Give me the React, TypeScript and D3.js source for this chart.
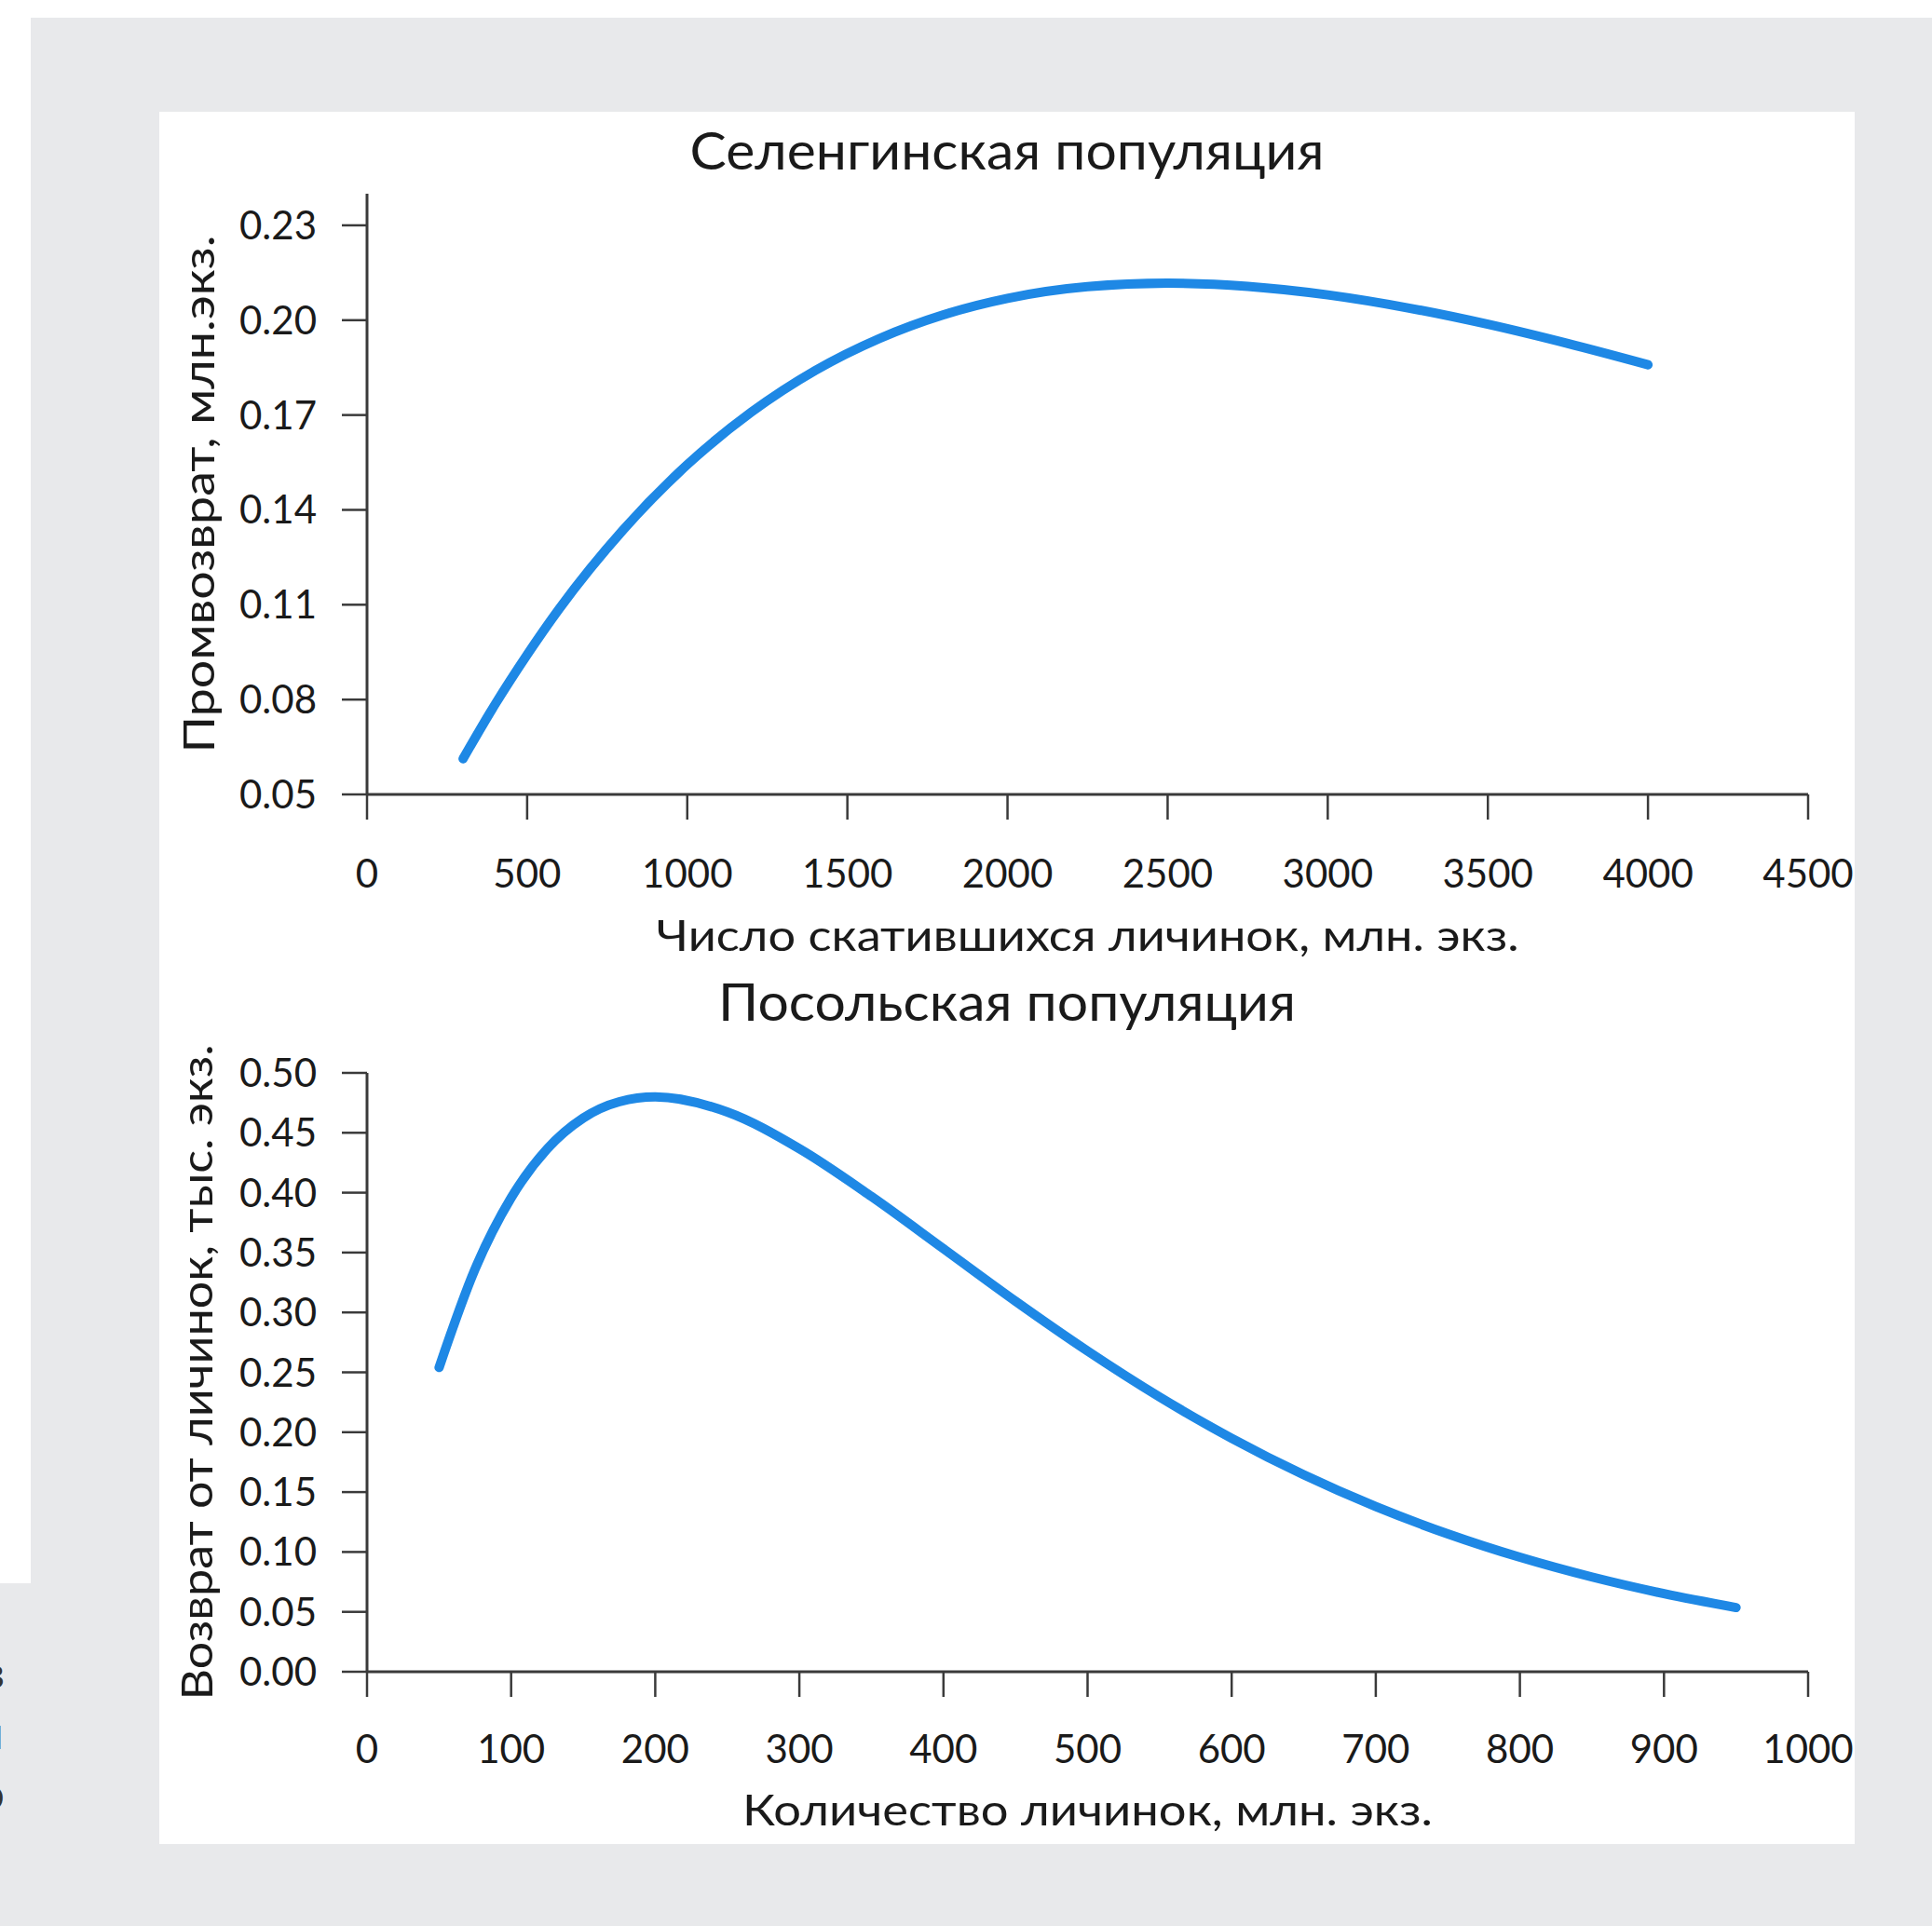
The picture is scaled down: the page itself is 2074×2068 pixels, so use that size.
import React from "react";
import * as d3 from "d3";

// Selenga population: larvae released (mln) vs. commercial return (mln fish)
const selengaLarvae = [300, 400, 500, 600, 800, 1000, 1200, 1400, 1600, 1800, 2000, 2250, 2500, 2750, 3000, 3250, 3500, 3750, 4000];
const selengaReturn = [0.0613, 0.0785, 0.0942, 0.1087, 0.1337, 0.1543, 0.1709, 0.1841, 0.1942, 0.2017, 0.2069, 0.2106, 0.2117, 0.2107, 0.208, 0.2039, 0.1987, 0.1926, 0.1859];
const selengaXTicks = [0, 500, 1000, 1500, 2000, 2500, 3000, 3500, 4000, 4500];
const selengaYTicks = [0.05, 0.08, 0.11, 0.14, 0.17, 0.2, 0.23];

// Posolsk population: larvae (mln) vs. return (thousand fish)
const posolskLarvae = [50, 75, 100, 125, 150, 175, 200, 250, 300, 350, 400, 450, 500, 550, 600, 650, 700, 750, 800, 850, 900, 950];
const posolskReturn = [0.254, 0.3363, 0.3957, 0.4365, 0.4623, 0.4759, 0.48, 0.4673, 0.4367, 0.3968, 0.3532, 0.3094, 0.2678, 0.2294, 0.1949, 0.1644, 0.1379, 0.1151, 0.0956, 0.0791, 0.0652, 0.0536];
const posolskXTicks = [0, 100, 200, 300, 400, 500, 600, 700, 800, 900, 1000];
const posolskYTicks = [0, 0.05, 0.1, 0.15, 0.2, 0.25, 0.3, 0.35, 0.4, 0.45, 0.5];

const W = 2074;
const H = 2068;
const FONT = "Lato, 'Open Sans', sans-serif";
const INK = "#1a1a1a";
const AXIS = "#3a3a3a";
const LINE = "#1e88e5";
const TICK = 27;

type PanelProps = {
  title: string;
  titleY: number;
  titleLen: number;
  xLabel: string;
  xLabelY: number;
  xLabelLen: number;
  yLabel: string;
  yLabelX: number;
  yLabelLen: number;
  xs: number[];
  ys: number[];
  xTicks: number[];
  yTicks: number[];
  xDomain: [number, number];
  yDomain: [number, number];
  yRange: [number, number];
  xTickLabelY: number;
};

const plotLeft = 394;
const plotRight = 1941;
const panelCenter = 1081;

function Panel(p: PanelProps) {
  const x = d3.scaleLinear().domain(p.xDomain).range([plotLeft, plotRight]);
  const y = d3.scaleLinear().domain(p.yDomain).range(p.yRange);
  const pts = p.xs.map((v, i) => [v, p.ys[i]] as [number, number]);
  const path = d3
    .line<[number, number]>()
    .x((d) => x(d[0]))
    .y((d) => y(d[1]))
    .curve(d3.curveMonotoneX)(pts) as string;
  const fmtY = d3.format(".2f");
  const y0 = y(p.yDomain[0]);
  const yTopPx = y(p.yDomain[1]);
  const yMid = (y0 + yTopPx) / 2;
  const xMid = (plotLeft + plotRight) / 2;
  return (
    <g>
      <text
        x={panelCenter}
        y={p.titleY}
        textAnchor="middle"
        fontFamily={FONT}
        fontSize={56}
        fill={INK}
        textLength={p.titleLen}
        lengthAdjust="spacingAndGlyphs"
      >
        {p.title}
      </text>
      {/* axis lines */}
      <line x1={plotLeft} x2={plotLeft} y1={yTopPx} y2={y0} stroke={AXIS} strokeWidth={3} />
      <line x1={plotLeft} x2={plotRight} y1={y0} y2={y0} stroke={AXIS} strokeWidth={3} />
      {p.yTicks.map((t) => (
        <g key={"y" + t}>
          <line x1={plotLeft - TICK} x2={plotLeft} y1={y(t)} y2={y(t)} stroke={AXIS} strokeWidth={2.5} />
          <text x={340} y={y(t) + 15} textAnchor="end" fontFamily={FONT} fontSize={42} fill={INK}>
            {fmtY(t)}
          </text>
        </g>
      ))}
      {p.xTicks.map((t) => (
        <g key={"x" + t}>
          <line x1={x(t)} x2={x(t)} y1={y0} y2={y0 + TICK} stroke={AXIS} strokeWidth={2.5} />
          <text x={x(t)} y={p.xTickLabelY} textAnchor="middle" fontFamily={FONT} fontSize={42} fill={INK}>
            {t}
          </text>
        </g>
      ))}
      <text
        x={xMid}
        y={p.xLabelY}
        textAnchor="middle"
        fontFamily={FONT}
        fontSize={47}
        fill={INK}
        textLength={p.xLabelLen}
        lengthAdjust="spacingAndGlyphs"
      >
        {p.xLabel}
      </text>
      <text
        transform={`translate(${p.yLabelX},${yMid}) rotate(-90)`}
        textAnchor="middle"
        fontFamily={FONT}
        fontSize={47}
        fill={INK}
        textLength={p.yLabelLen}
        lengthAdjust="spacingAndGlyphs"
      >
        {p.yLabel}
      </text>
      <path d={path} fill="none" stroke={LINE} strokeWidth={10} strokeLinecap="round" strokeLinejoin="round" />
    </g>
  );
}

export default function App() {
  return (
    <svg
      width={W}
      height={H}
      viewBox={`0 0 ${W} ${H}`}
      style={{ position: "absolute", left: 0, top: 0, display: "block" }}
    >
      <rect x={0} y={0} width={W} height={H} fill="#e8e9eb" />
      <rect x={0} y={0} width={W} height={19} fill="#ffffff" />
      <rect x={0} y={0} width={33} height={1700} fill="#ffffff" />
      {/* page text cut off at the left edge */}
      <g fontFamily="'Open Sans', sans-serif" fontWeight={600} fontSize={46} fill="#333" textAnchor="end">
        <text x={5} y={1813}>з</text>
        <text x={4} y={1878}>н</text>
        <text x={5} y={1943}>о</text>
      </g>
      <rect x={171} y={120} width={1820} height={1860} fill="#ffffff" />
      <Panel
        title="Селенгинская популяция"
        titleY={182}
        titleLen={681}
        xLabel="Число скатившихся личинок, млн. экз."
        xLabelY={1021}
        xLabelLen={926}
        yLabel="Промвозврат, млн.экз."
        yLabelX={230}
        yLabelLen={556}
        xs={selengaLarvae}
        ys={selengaReturn}
        xTicks={selengaXTicks}
        yTicks={selengaYTicks}
        xDomain={[0, 4500]}
        yDomain={[0.05, 0.24]}
        yRange={[853, 208]}
        xTickLabelY={953}
      />
      <Panel
        title="Посольская популяция"
        titleY={1096}
        titleLen={620}
        xLabel="Количество личинок, млн. экз."
        xLabelY={1960}
        xLabelLen={741}
        yLabel="Возврат от личинок, тыс. экз."
        yLabelX={228}
        yLabelLen={704}
        xs={posolskLarvae}
        ys={posolskReturn}
        xTicks={posolskXTicks}
        yTicks={posolskYTicks}
        xDomain={[0, 1000]}
        yDomain={[0, 0.5]}
        yRange={[1795, 1152]}
        xTickLabelY={1893}
      />
    </svg>
  );
}
